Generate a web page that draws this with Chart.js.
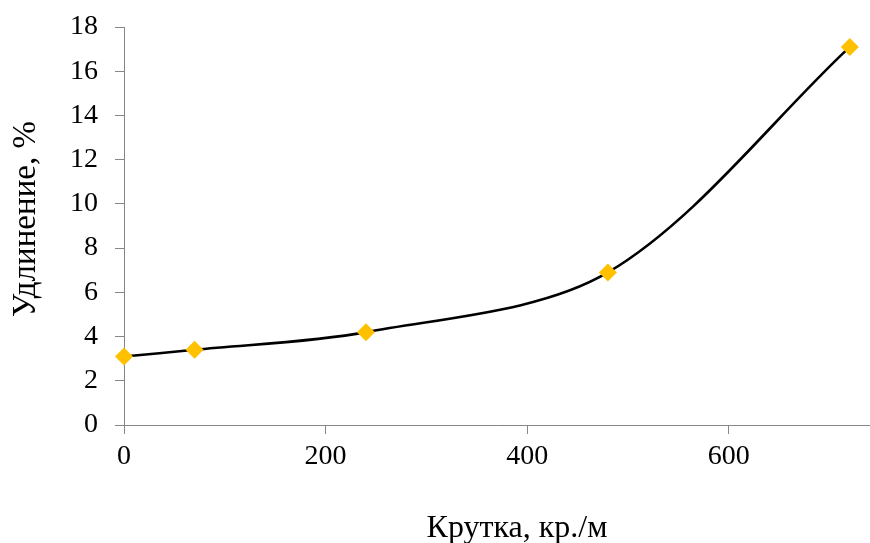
<!DOCTYPE html>
<html>
<head>
<meta charset="utf-8">
<script src="https://cdn.jsdelivr.net/npm/chart.js@4"></script>
<style>
  html, body { margin: 0; padding: 0; background: #fff; }
  #wrap { width: 870px; height: 543px; position: relative; }
</style>
</head>
<body>
<div id="wrap"><canvas id="c" width="870" height="543"></canvas></div>
<script>
const twist = [0, 70, 240, 480, 720];
const elongation = [3.1, 3.4, 4.2, 6.9, 17.1];
const xTitle = 'Крутка, кр./м';
const yTitle = 'Удлинение, %';

const FONT = '"Liberation Serif", "Times New Roman", serif';
const AXIS = '#868686';

const titlePlugin = {
  id: 'axisTitles',
  afterDraw(chart) {
    const ctx = chart.ctx;
    ctx.save();
    ctx.fillStyle = '#000';
    ctx.textAlign = 'center';
    ctx.textBaseline = 'alphabetic';
    ctx.font = '32px ' + FONT;
    ctx.fillText(xTitle, 517, 537);
    ctx.translate(35, 219);
    ctx.rotate(-Math.PI / 2);
    ctx.font = '33px ' + FONT;
    ctx.fillText(yTitle, 0, 0);
    ctx.restore();
  }
};

new Chart(document.getElementById('c'), {
  type: 'line',
  data: {
    datasets: [{
      data: twist.map((x, i) => ({ x: x, y: elongation[i] })),
      borderColor: '#000',
      borderWidth: 2.6,
      tension: 0.32,
      pointStyle: 'rectRot',
      pointRadius: 9,
      pointHoverRadius: 9,
      pointBackgroundColor: '#FFC000',
      pointBorderColor: '#FFC000',
      pointBorderWidth: 0,
      clip: false
    }]
  },
  options: {
    responsive: false,
    devicePixelRatio: 1,
    animation: false,
    layout: { autoPadding: false, padding: { top: 27, right: 0, left: 0, bottom: 0 } },
    plugins: { legend: { display: false }, tooltip: { enabled: false } },
    scales: {
      x: {
        type: 'linear',
        min: 0,
        max: 740,
        afterFit(s) { s.height = 118; s.paddingLeft = 0; s.paddingRight = 0; },
        ticks: { stepSize: 200, includeBounds: false, color: '#000', font: { family: FONT, size: 28 }, padding: 6, maxRotation: 0 },
        grid: { drawOnChartArea: false, drawTicks: true, tickLength: 9, color: AXIS },
        border: { color: AXIS, width: 1 }
      },
      y: {
        min: 0,
        max: 18,
        afterFit(s) { s.width = 124; s.paddingTop = 0; s.paddingBottom = 0; },
        ticks: { stepSize: 2, color: '#000', font: { family: FONT, size: 28 }, padding: 17 },
        grid: { drawOnChartArea: false, drawTicks: true, tickLength: 9, color: AXIS },
        border: { color: AXIS, width: 1 }
      }
    }
  },
  plugins: [titlePlugin]
});
</script>
</body>
</html>
